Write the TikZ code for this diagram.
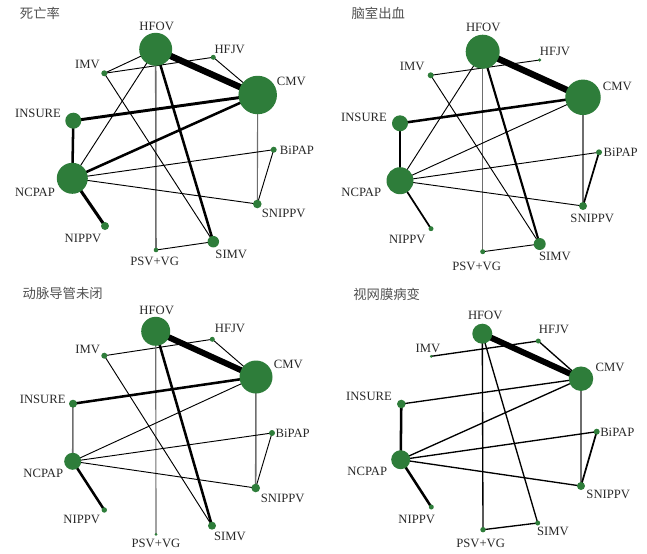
\documentclass[tikz,border=0pt]{standalone}
\usepackage{fontspec}
\setmainfont{Liberation Serif}
\newfontfamily\cjk{Noto Sans CJK SC}
\usetikzlibrary{backgrounds}
\definecolor{ngreen}{RGB}{46,125,58}
\definecolor{lgray}{RGB}{110,110,110}
\definecolor{txt}{RGB}{40,40,40}
\definecolor{ttxt}{RGB}{80,80,80}
\tikzset{
  nd/.style={circle, fill=ngreen, draw=none, inner sep=0pt, minimum size={#1*0.75pt}},
  lb/.style={text=txt, font=\fontsize{9.5}{11}\selectfont, inner sep=0pt},
  ttl/.style={text=ttxt, font=\cjk\fontsize{10}{12}\selectfont, inner sep=0pt},
  e1/.style={draw=black, line width=0.7pt},
  e2/.style={draw=black, line width=1.0pt},
  e3/.style={draw=black, line width=1.3pt},
  e4/.style={draw=black, line width=1.9pt},
  e5/.style={draw=black, line width=4.8pt},
  g1/.style={draw=lgray, line width=0.85pt},
  g2/.style={draw=lgray, line width=1.15pt},
}
\begin{document}
\begin{tikzpicture}[x=0.75pt, y=-0.75pt]
\useasboundingbox (0,0) rectangle (647,554);

% ---------------- Panel 1 ----------------
\node[ttl] (t1) at (40,13) {死亡率};
\node[nd=33]  (aHFOV) at (155.7,49.3) {};
\node[nd=5]   (aHFJV) at (213.3,57.3) {};
\node[nd=6]   (aIMV)  at (104.3,73.3) {};
\node[nd=38.5](aCMV)  at (257.7,95) {};
\node[nd=16]  (aINS)  at (73.3,120.7) {};
\node[nd=6]   (aBIP)  at (273.7,149.7) {};
\node[nd=31]  (aNCP)  at (72.3,178.3) {};
\node[nd=8.6] (aSNI)  at (257.3,204) {};
\node[nd=8]   (aNIP)  at (105,226) {};
\node[nd=11.5](aSIM)  at (213.3,241.7) {};
\node[nd=4.6] (aPSV)  at (156,250) {};
\node[lb] (laHFOV) at (156.7,26) {HFOV};
\node[lb] (laHFJV) at (229.7,49.3) {HFJV};
\node[lb] (laIMV)  at (87.5,64) {IMV};
\node[lb] (laCMV)  at (291.3,81.7) {CMV};
\node[lb] (laINS)  at (38,113.7) {INSURE};
\node[lb] (laBIP)  at (297,150) {BiPAP};
\node[lb] (laNCP)  at (35,192.7) {NCPAP};
\node[lb] (laSNI)  at (283.7,213.7) {SNIPPV};
\node[lb] (laNIP)  at (83,238.7) {NIPPV};
\node[lb] (laSIM)  at (231.3,254.3) {SIMV};
\node[lb] (laPSV)  at (154.7,261) {PSV+VG};
\begin{scope}[on background layer]
\draw[e5] (aHFOV.center) -- (aCMV.center);
\draw[e1] (aHFOV.center) -- (aIMV.center);
\draw[e1] (aIMV.center) -- (aHFJV.center);
\draw[e1] (aHFJV.center) -- (aCMV.center);
\draw[e1] (aHFOV.center) -- (aNCP.center);
\draw[e4] (aHFOV.center) -- (aSIM.center);
\draw[g2] (aHFOV.center) -- (aPSV.center);
\draw[e1] (aIMV.center) -- (aSIM.center);
\draw[e4, line width=2.2pt] (aCMV.center) -- (aINS.center);
\draw[e4] (aCMV.center) -- (aNCP.center);
\draw[g1] (aCMV.center) -- (aSNI.center);
\draw[e4] (aINS.center) -- (aNCP.center);
\draw[e1] (aNCP.center) -- (aBIP.center);
\draw[e1] (aNCP.center) -- (aSNI.center);
\draw[e4, line width=2.3pt] (aNCP.center) -- (aNIP.center);
\draw[e1] (aBIP.center) -- (aSNI.center);
\draw[e1] (aSIM.center) -- (aPSV.center);
\end{scope}

% ---------------- Panel 2 ----------------
\node[ttl] (t2) at (378.3,13) {脑室出血};
\node[nd=34]  (bHFOV) at (482.7,51.7) {};
\node[nd=3.5] (bHFJV) at (539.7,60) {};
\node[nd=6]   (bIMV)  at (430.7,75.3) {};
\node[nd=35.5](bCMV)  at (583,97.3) {};
\node[nd=16]  (bINS)  at (400,123.3) {};
\node[nd=6]   (bBIP)  at (599,152.3) {};
\node[nd=27]  (bNCP)  at (400,180.7) {};
\node[nd=8]   (bSNI)  at (583,206) {};
\node[nd=5]   (bNIP)  at (431,228.7) {};
\node[nd=12]  (bSIM)  at (539.7,244) {};
\node[nd=5]   (bPSV)  at (482.7,251.7) {};
\node[lb] (lbHFOV) at (483.3,27.3) {HFOV};
\node[lb] (lbHFJV) at (555,51) {HFJV};
\node[lb] (lbIMV)  at (412.3,66.7) {IMV};
\node[lb] (lbCMV)  at (617.3,86) {CMV};
\node[lb] (lbINS)  at (364,117.3) {INSURE};
\node[lb] (lbBIP)  at (620.7,152.3) {BiPAP};
\node[lb] (lbNCP)  at (361.3,192.7) {NCPAP};
\node[lb] (lbSNI)  at (592.3,218.3) {SNIPPV};
\node[lb] (lbNIP)  at (407.3,239.3) {NIPPV};
\node[lb] (lbSIM)  at (555,256) {SIMV};
\node[lb] (lbPSV)  at (476.7,266) {PSV+VG};
\begin{scope}[on background layer]
\draw[e5] (bHFOV.center) -- (bCMV.center);
\draw[e1] (bIMV.center) -- (bHFJV.center);
\draw[e1] (bHFOV.center) -- (bNCP.center);
\draw[g2] (bHFOV.center) -- (bPSV.center);
\draw[e4, line width=1.6pt] (bHFOV.center) -- (bSIM.center);
\draw[e1] (bIMV.center) -- (bSIM.center);
\draw[e4] (bCMV.center) -- (bINS.center);
\draw[e1] (bCMV.center) -- (bNCP.center);
\draw[g1] (bCMV.center) -- (bSNI.center);
\draw[e4] (bINS.center) -- (bNCP.center);
\draw[e1] (bNCP.center) -- (bBIP.center);
\draw[e1] (bNCP.center) -- (bSNI.center);
\draw[e3] (bNCP.center) -- (bNIP.center);
\draw[e3] (bBIP.center) -- (bSNI.center);
\draw[e1] (bSIM.center) -- (bPSV.center);
\end{scope}

% ---------------- Panel 3 ----------------
\node[ttl] (t3) at (62.7,293.7) {动脉导管未闭};
\node[nd=29]  (cHFOV) at (155.7,331.3) {};
\node[nd=5]   (cHFJV) at (212.3,339.3) {};
\node[nd=6]   (cIMV)  at (104.3,355.7) {};
\node[nd=33]  (cCMV)  at (256,377) {};
\node[nd=8]   (cINS)  at (73,403.7) {};
\node[nd=6]   (cBIP)  at (272,433) {};
\node[nd=17]  (cNCP)  at (72.7,461.3) {};
\node[nd=8.6] (cSNI)  at (255.7,488) {};
\node[nd=5.4] (cNIP)  at (104.3,510) {};
\node[nd=8]   (cSIM)  at (212,525.7) {};
\node[nd=3]   (cPSV)  at (156,534.3) {};
\node[lb] (lcHFOV) at (156.7,310.3) {HFOV};
\node[lb] (lcHFJV) at (230,328) {HFJV};
\node[lb] (lcIMV)  at (87.7,349.3) {IMV};
\node[lb] (lcCMV)  at (288.3,364.3) {CMV};
\node[lb] (lcINS)  at (42.7,399.3) {INSURE};
\node[lb] (lcBIP)  at (292.7,433.7) {BiPAP};
\node[lb] (lcNCP)  at (43.3,473) {NCPAP};
\node[lb] (lcSNI)  at (282.7,498) {SNIPPV};
\node[lb] (lcNIP)  at (81.7,519.7) {NIPPV};
\node[lb] (lcSIM)  at (230,536.3) {SIMV};
\node[lb] (lcPSV)  at (156,543.7) {PSV+VG};
\begin{scope}[on background layer]
\draw[e5, line width=4.5pt] (cHFOV.center) -- (cCMV.center);
\draw[e1] (cIMV.center) -- (cHFJV.center);
\draw[e1] (cHFJV.center) -- (cCMV.center);
\draw[g1] (cHFOV.center) -- (cPSV.center);
\draw[e4] (cHFOV.center) -- (cSIM.center);
\draw[e1] (cIMV.center) -- (cSIM.center);
\draw[e4] (cCMV.center) -- (cINS.center);
\draw[e1] (cCMV.center) -- (cNCP.center);
\draw[g2] (cCMV.center) -- (cSNI.center);
\draw[g2] (cINS.center) -- (cNCP.center);
\draw[e1] (cNCP.center) -- (cBIP.center);
\draw[e1] (cNCP.center) -- (cSNI.center);
\draw[e4] (cNCP.center) -- (cNIP.center);
\draw[e1] (cBIP.center) -- (cSNI.center);
\end{scope}

% ---------------- Panel 4 ----------------
\node[ttl] (t4) at (386.7,294) {视网膜病变};
\node[nd=20]  (dHFOV) at (482.3,333.7) {};
\node[nd=5]   (dHFJV) at (538.3,341) {};
\node[nd=3]   (dIMV)  at (431.3,356.3) {};
\node[nd=24.5](dCMV)  at (581,378.7) {};
\node[nd=8.6] (dINS)  at (401.3,404) {};
\node[nd=6]   (dBIP)  at (596.7,431.7) {};
\node[nd=19]  (dNCP)  at (400.7,459.7) {};
\node[nd=8]   (dSNI)  at (581,486) {};
\node[nd=5]   (dNIP)  at (431.3,507) {};
\node[nd=5]   (dSIM)  at (537.7,523) {};
\node[nd=5.4] (dPSV)  at (483,529.7) {};
\node[lb] (ldHFOV) at (485.3,315.3) {HFOV};
\node[lb] (ldHFJV) at (554,329.3) {HFJV};
\node[lb] (ldIMV)  at (428,348) {IMV};
\node[lb] (ldCMV)  at (610,367) {CMV};
\node[lb] (ldINS)  at (369,396) {INSURE};
\node[lb] (ldBIP)  at (617.3,432) {BiPAP};
\node[lb] (ldNCP)  at (367.3,471.3) {NCPAP};
\node[lb] (ldSNI)  at (608.3,494.3) {SNIPPV};
\node[lb] (ldNIP)  at (416.7,519.3) {NIPPV};
\node[lb] (ldSIM)  at (553,531) {SIMV};
\node[lb] (ldPSV)  at (480.7,543.7) {PSV+VG};
\begin{scope}[on background layer]
\draw[e5, line width=4.5pt] (dHFOV.center) -- (dCMV.center);
\draw[e2] (dIMV.center) -- (dHFJV.center);
\draw[e2] (dHFJV.center) -- (dCMV.center);
\draw[e2] (dHFOV.center) -- (dPSV.center);
\draw[e2] (dHFOV.center) -- (dSIM.center);
\draw[e2] (dCMV.center) -- (dINS.center);
\draw[e2] (dCMV.center) -- (dNCP.center);
\draw[g2] (dCMV.center) -- (dSNI.center);
\draw[e4] (dINS.center) -- (dNCP.center);
\draw[e2] (dNCP.center) -- (dBIP.center);
\draw[e2] (dNCP.center) -- (dSNI.center);
\draw[e4] (dNCP.center) -- (dNIP.center);
\draw[e3] (dBIP.center) -- (dSNI.center);
\draw[e2] (dSIM.center) -- (dPSV.center);
\end{scope}
\end{tikzpicture}
\end{document}
